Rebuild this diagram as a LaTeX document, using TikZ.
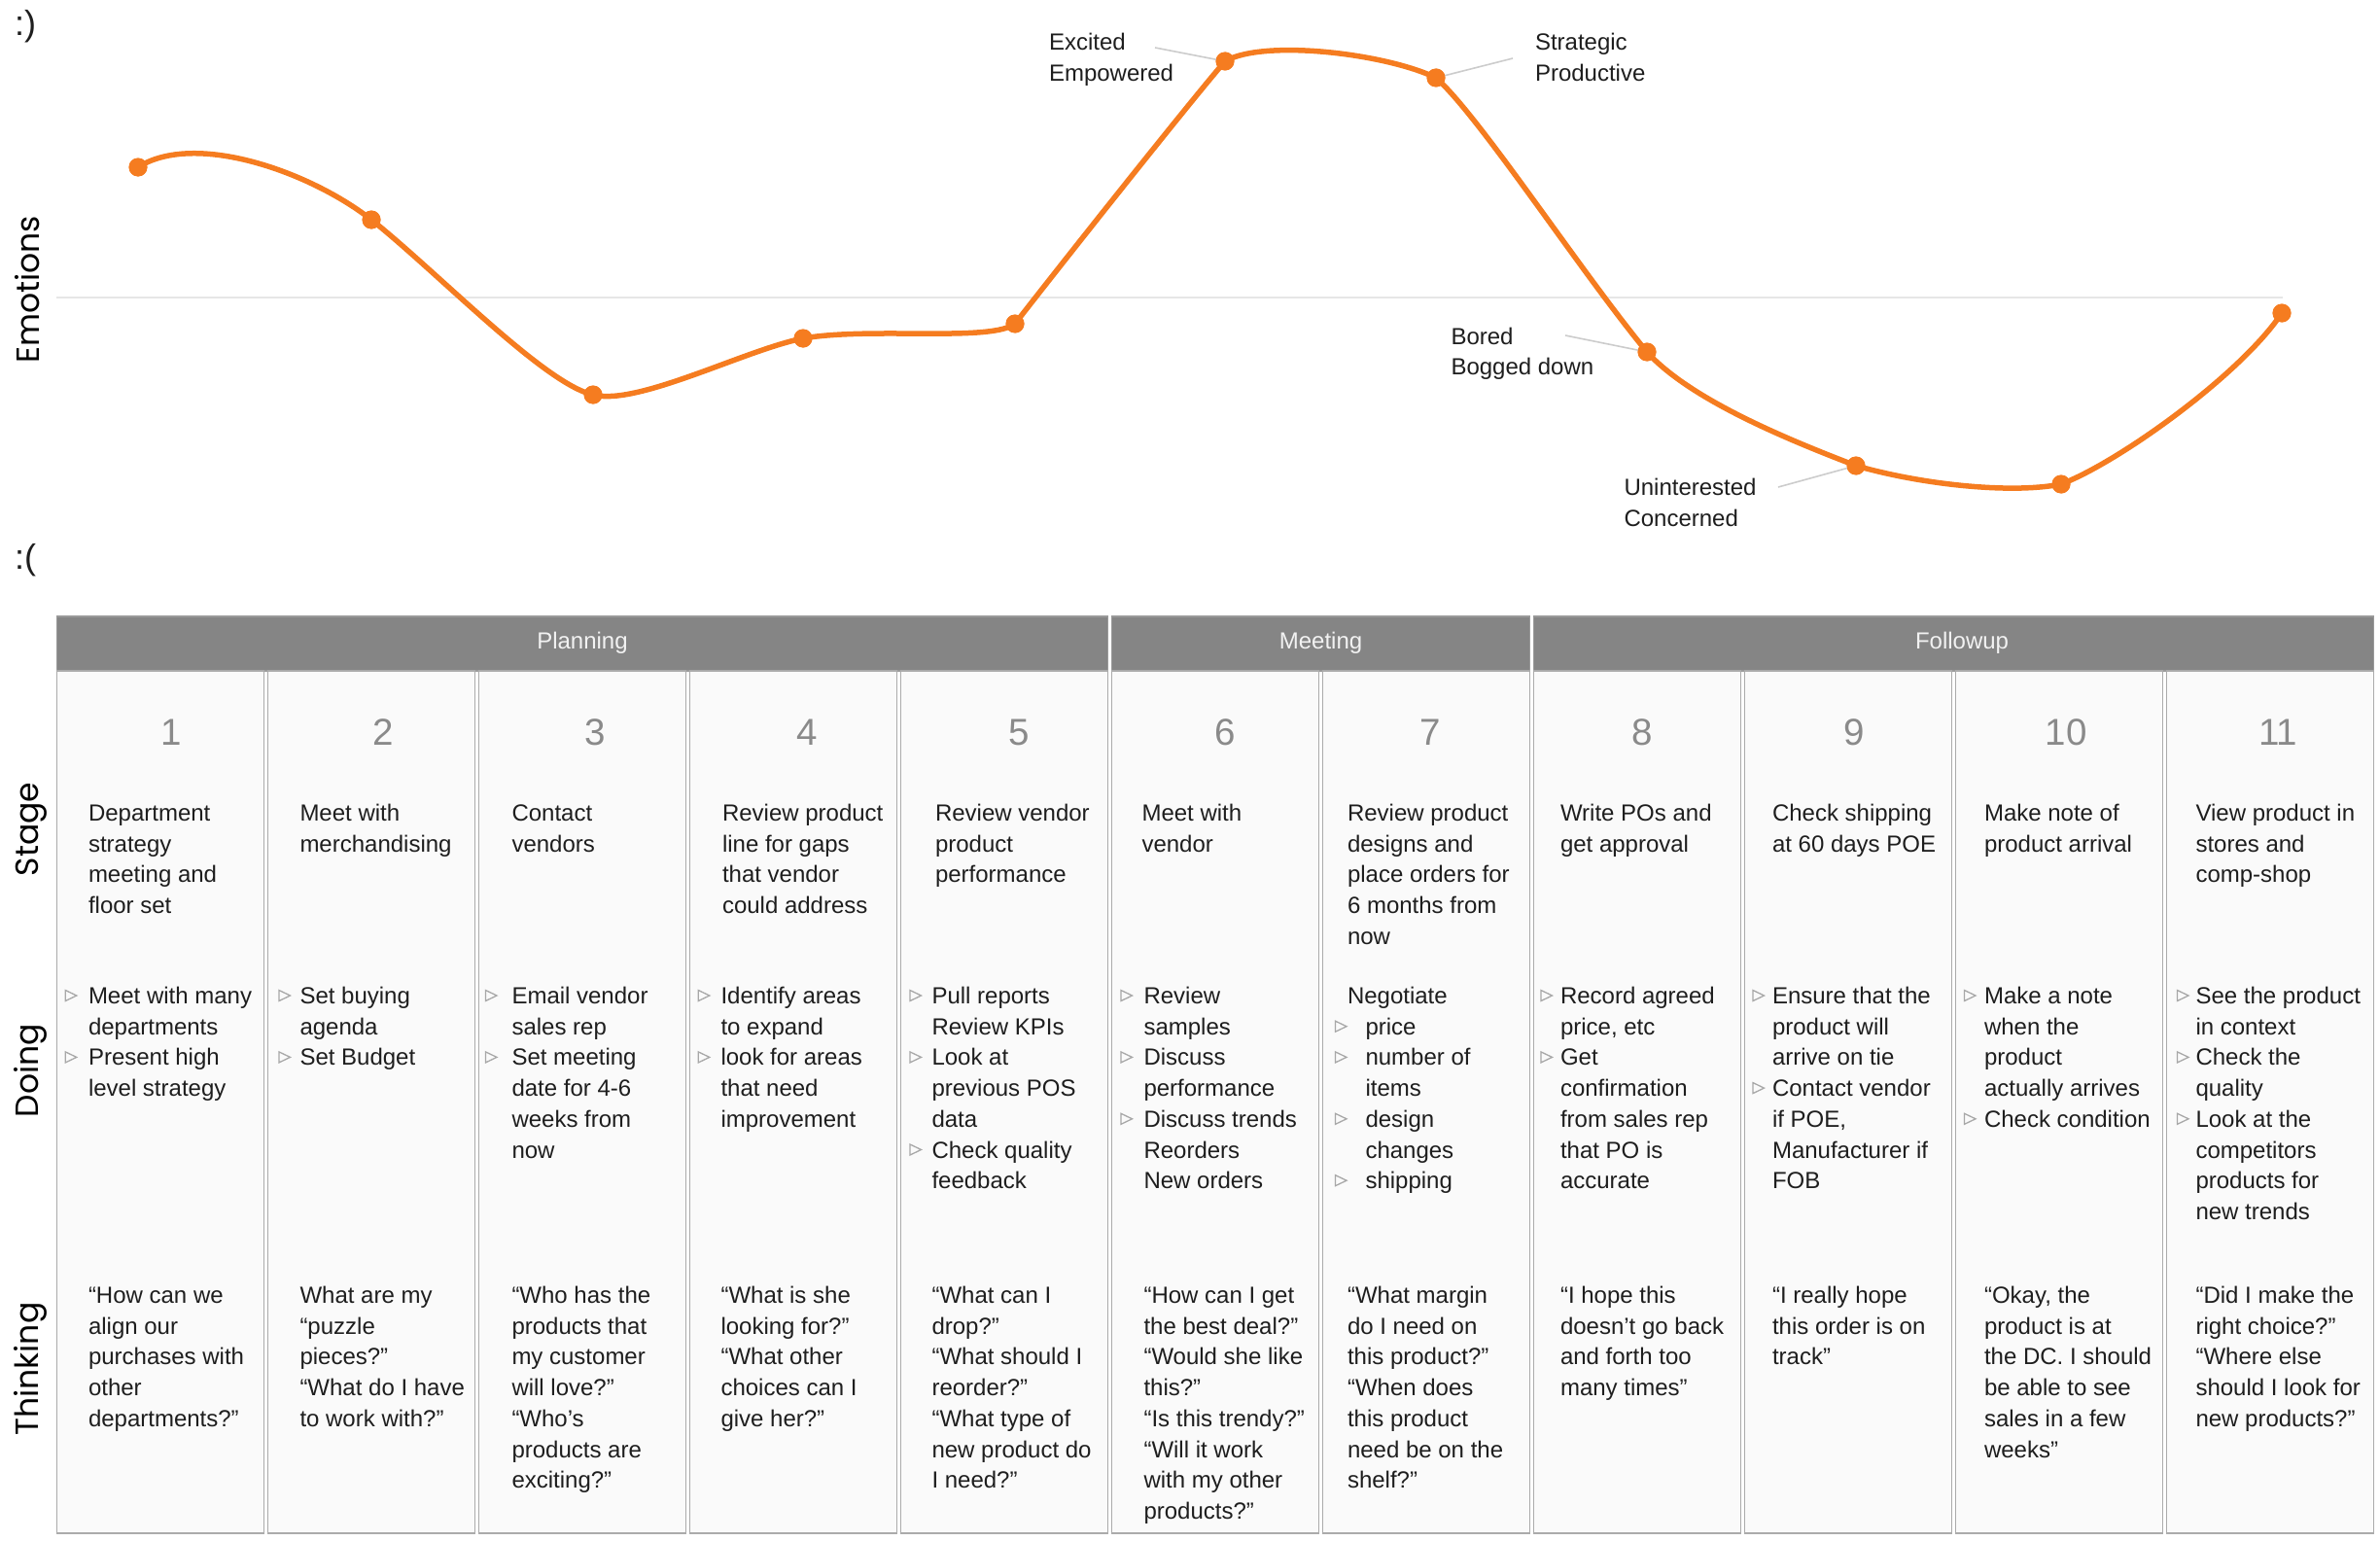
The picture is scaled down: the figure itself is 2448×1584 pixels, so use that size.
\documentclass[tikz,border=0pt]{standalone}
\usepackage{fontspec}
\setmainfont{Liberation Sans}
\newfontfamily\rowfont{Poppins}
\definecolor{curveorange}{HTML}{F57C20}
\definecolor{txtdark}{HTML}{1E1E1E}
\definecolor{hdrfill}{HTML}{858585}
\definecolor{hdrline}{HTML}{9A9A9A}
\definecolor{colfill}{HTML}{FAFAFA}
\definecolor{colline}{HTML}{ABABAB}
\definecolor{numgray}{HTML}{8A8A8A}
\definecolor{leadgray}{HTML}{CCCCCC}
\definecolor{zerogray}{HTML}{E6E6E6}
\definecolor{bulgray}{HTML}{A8A8A8}
\newcommand\tabfont{\fontsize{24}{31.7}\selectfont}
\newcommand\fs{\rule{0pt}{24pt}}
\newcommand\ind{\hspace*{18.5pt}}
\begin{document}
\begin{tikzpicture}[x=1pt,y=-1pt,
  tx/.style={anchor=north west, inner sep=0pt, outer sep=0pt, align=left, font=\tabfont, text=txtdark},
  hdrtext/.style={anchor=base, inner sep=0pt, font=\tabfont, text=white!95!black},
  numtext/.style={anchor=base, inner sep=0pt, font=\fontsize{38.5}{40}\selectfont, text=numgray},
  rowlabel/.style={anchor=base, rotate=90, inner sep=0pt, font=\rowfont\fontsize{33}{36}\selectfont, text=black},
  face/.style={anchor=base west, inner sep=0pt, font=\fontsize{36}{40}\selectfont, text=txtdark},
  dot/.style={circle, fill=curveorange, inner sep=0pt, minimum size=19pt},
  curve/.style={draw=curveorange, line width=5.5pt, line cap=round, line join=round},
  leader/.style={draw=leadgray, line width=1.6pt},
  colbox/.style={fill=colfill, draw=colline, line width=1.4pt},
  hdrbox/.style={fill=hdrfill, draw=hdrline, line width=1.4pt},
  bul/.style={draw=bulgray, line width=1.3pt, line join=miter}
]
\useasboundingbox (0,0) rectangle (2448,1584);

% ---------- emotion chart ----------
\node[face] (happy) at (15,37) {:)};
\node[face] (sad) at (15,585) {:(};
\node[rowlabel] (emo) at (40,298) {Emotions};
\draw[zerogray, line width=2pt] (58,306) -- (2348,306);

\coordinate (l6) at (1188,49);
\coordinate (l7) at (1556,60);
\coordinate (l8) at (1610,345);
\coordinate (l9) at (1829,501);

\node[dot] (e1) at (142,172) {};
\node[dot] (e2) at (382,226) {};
\node[dot] (e3) at (610,406) {};
\node[dot] (e4) at (826,348) {};
\node[dot] (e5) at (1044,333) {};
\node[dot] (e6) at (1260,63) {};
\node[dot] (e7) at (1477,80) {};
\node[dot] (e8) at (1694,362) {};
\node[dot] (e9) at (1909,479) {};
\node[dot] (e10) at (2120,498) {};
\node[dot] (e11) at (2347,322) {};

\draw[leader] (l6) -- (e6.center);
\draw[leader] (l7) -- (e7.center);
\draw[leader] (l8) -- (e8.center);
\draw[leader] (l9) -- (e9.center);

\draw[curve] (e1.center) .. controls (200,135) and (318,176) .. (e2.center)
 .. controls (450,280) and (560,395) .. (e3.center)
 .. controls (655,418) and (766,360) .. (e4.center)
 .. controls (896,336) and (1019,352) .. (e5.center)
 .. controls (1085,280) and (1218,112) .. (e6.center)
 .. controls (1300,40) and (1425,55) .. (e7.center)
 .. controls (1522,120) and (1624,277) .. (e8.center)
 .. controls (1739,412) and (1844,454) .. (e9.center)
 .. controls (1979,499) and (2070,508) .. (e10.center)
 .. controls (2180,475) and (2305,385) .. (e11.center);

\foreach \n in {1,...,11} { \fill[curveorange] (e\n.center) circle (9.5pt); }

\node[tx] (lab6) at (1079,27.7) {\fs Excited\\Empowered};
\node[tx] (lab7) at (1579,27.7) {\fs Strategic\\Productive};
\node[tx] (lab8) at (1492.5,330) {\fs Bored\\Bogged down};
\node[tx] (lab9) at (1670.5,485.4) {\fs Uninterested\\Concerned};

% ---------- table ----------
\node[rowlabel] (rstage) at (39,853) {Stage};
\node[rowlabel] (rdoing) at (39,1101) {Doing};
\node[rowlabel] (rthink) at (39,1408) {Thinking};

\draw[hdrbox] (58.5,634) rectangle (1139.5,690);
\draw[hdrbox] (1143.5,634) rectangle (1573.5,690);
\draw[hdrbox] (1577.5,634) rectangle (2441.5,690);
\node[hdrtext] (hplan) at (599,667) {Planning};
\node[hdrtext] (hmeet) at (1358.5,667) {Meeting};
\node[hdrtext] (hfollow) at (2018,667) {Followup};

\foreach \i in {0,...,10} {
  \draw[colbox] ({58.5+\i*217},690) rectangle ({58.5+\i*217+213},1577);
}

% numbers
\node[numtext] (n1) at (176,766) {1};
\node[numtext] (n2) at (394,766) {2};
\node[numtext] (n3) at (612,766) {3};
\node[numtext] (n4) at (830,766) {4};
\node[numtext] (n5) at (1048,766) {5};
\node[numtext] (n6) at (1260,766) {6};
\node[numtext] (n7) at (1471,766) {7};
\node[numtext] (n8) at (1689,766) {8};
\node[numtext] (n9) at (1907,766) {9};
\node[numtext] (n10) at (2125,766) {10};
\node[numtext] (n11) at (2343,766) {11};

% stage
\node[tx] (s1) at (91,820.5) {\fs Department\\strategy\\meeting and\\floor set};
\node[tx] (s2) at (308.5,820.5) {\fs Meet with\\merchandising};
\node[tx] (s3) at (526.5,820.5) {\fs Contact\\vendors};
\node[tx] (s4) at (743,820.5) {\fs Review product\\line for gaps\\that vendor\\could address};
\node[tx] (s5) at (962,820.5) {\fs Review vendor\\product\\performance};
\node[tx] (s6) at (1174.5,820.5) {\fs Meet with\\vendor};
\node[tx] (s7) at (1386,820.5) {\fs Review product\\designs and\\place orders for\\6 months from\\now};
\node[tx] (s8) at (1605,820.5) {\fs Write POs and\\get approval};
\node[tx] (s9) at (1823,820.5) {\fs Check shipping\\at 60 days POE};
\node[tx] (s10) at (2041,820.5) {\fs Make note of\\product arrival};
\node[tx] (s11) at (2258.5,820.5) {\fs View product in\\stores and\\comp-shop};

% doing
\node[tx] (g1) at (91,1008.5) {\fs Meet with many\\departments\\Present high\\level strategy};
\node[tx] (g2) at (308.5,1008.5) {\fs Set buying\\agenda\\Set Budget};
\node[tx] (g3) at (526.5,1008.5) {\fs Email vendor\\sales rep\\Set meeting\\date for 4-6\\weeks from\\now};
\node[tx] (g4) at (741.5,1008.5) {\fs Identify areas\\to expand\\look for areas\\that need\\improvement};
\node[tx] (g5) at (958.5,1008.5) {\fs Pull reports\\Review KPIs\\Look at\\previous POS\\data\\Check quality\\feedback};
\node[tx] (g6) at (1176.5,1008.5) {\fs Review\\samples\\Discuss\\performance\\Discuss trends\\Reorders\\New orders};
\node[tx] (g7) at (1386,1008.5) {\fs Negotiate\\\ind price\\\ind number of\\\ind items\\\ind design\\\ind changes\\\ind shipping};
\node[tx] (g8) at (1605,1008.5) {\fs Record agreed\\price, etc\\Get\\confirmation\\from sales rep\\that PO is\\accurate};
\node[tx] (g9) at (1823,1008.5) {\fs Ensure that the\\product will\\arrive on tie\\Contact vendor\\if POE,\\Manufacturer if\\FOB};
\node[tx] (g10) at (2041,1008.5) {\fs Make a note\\when the\\product\\actually arrives\\Check condition};
\node[tx] (g11) at (2258.5,1008.5) {\fs See the product\\in context\\Check the\\quality\\Look at the\\competitors\\products for\\new trends};

% bullets
\foreach \cx/\k in {73.3/0,73.3/2, 293/0,293/2, 505.5/0,505.5/2, 724.3/0,724.3/2,
  942/0,942/2,942/5, 1159/0,1159/2,1159/4, 1379.5/1,1379.5/2,1379.5/4,1379.5/6,
  1591/0,1591/2, 1809/0,1809/3, 2026.5/0,2026.5/4, 2245.5/0,2245.5/2,2245.5/4} {
  \pgfmathsetmacro\bl{1032.5+\k*31.7}
  \draw[bul] ({\cx-6},{\bl-14}) -- ({\cx-6},{\bl-3}) -- ({\cx+5.5},{\bl-8.5}) -- cycle;
}

% thinking
\node[tx] (t1) at (91,1316.5) {\fs “How can we\\align our\\purchases with\\other\\departments?”};
\node[tx] (t2) at (308.5,1316.5) {\fs What are my\\“puzzle\\pieces?”\\“What do I have\\to work with?”};
\node[tx] (t3) at (526.5,1316.5) {\fs “Who has the\\products that\\my customer\\will love?”\\“Who’s\\products are\\exciting?”};
\node[tx] (t4) at (741.5,1316.5) {\fs “What is she\\looking for?”\\“What other\\choices can I\\give her?”};
\node[tx] (t5) at (958.5,1316.5) {\fs “What can I\\drop?”\\“What should I\\reorder?”\\“What type of\\new product do\\I need?”};
\node[tx] (t6) at (1176.5,1316.5) {\fs “How can I get\\the best deal?”\\“Would she like\\this?”\\“Is this trendy?”\\“Will it work\\with my other\\products?”};
\node[tx] (t7) at (1386,1316.5) {\fs “What margin\\do I need on\\this product?”\\“When does\\this product\\need be on the\\shelf?”};
\node[tx] (t8) at (1605,1316.5) {\fs “I hope this\\doesn’t go back\\and forth too\\many times”};
\node[tx] (t9) at (1823,1316.5) {\fs “I really hope\\this order is on\\track”};
\node[tx] (t10) at (2041,1316.5) {\fs “Okay, the\\product is at\\the DC. I should\\be able to see\\sales in a few\\weeks”};
\node[tx] (t11) at (2258.5,1316.5) {\fs “Did I make the\\right choice?”\\“Where else\\should I look for\\new products?”};
\end{tikzpicture}
\end{document}
